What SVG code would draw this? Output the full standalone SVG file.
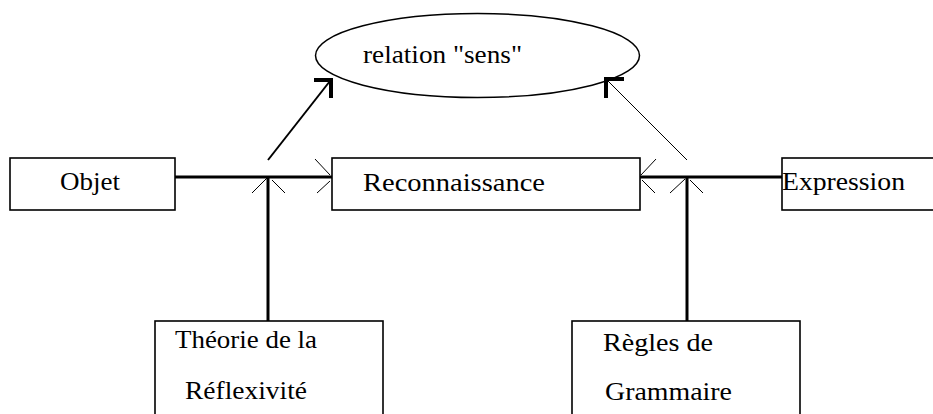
<svg xmlns="http://www.w3.org/2000/svg" width="933" height="414" viewBox="0 0 933 414">
<style>
.box{fill:#fff;stroke:#000;stroke-width:1.6}
.t{font-family:"Liberation Serif","Times New Roman",serif;font-size:25px;fill:#000}
.thick{stroke:#000;stroke-width:3;fill:none}
.thin{stroke:#000;stroke-width:1;fill:none}
.head{stroke:#000;stroke-width:4;fill:none;stroke-linecap:square}
</style>
<rect width="933" height="414" fill="#fff"/>
<g id="relation">
<ellipse cx="477.5" cy="55.5" rx="162" ry="42" fill="#fff" stroke="#000" stroke-width="1.5"/>
<text class="t" x="363" y="63" textLength="159" lengthAdjust="spacingAndGlyphs">relation "sens"</text>
</g>
<g id="objet">
<rect class="box" x="10" y="158" width="165" height="52"/>
<text class="t" x="60" y="190" textLength="60" lengthAdjust="spacingAndGlyphs">Objet</text>
</g>
<g id="reconnaissance">
<rect class="box" x="332" y="158" width="308" height="52"/>
<text class="t" x="363" y="191" textLength="182" lengthAdjust="spacingAndGlyphs">Reconnaissance</text>
</g>
<g id="expression">
<rect class="box" x="782" y="158" width="170" height="52"/>
<text class="t" x="782" y="190" textLength="123" lengthAdjust="spacingAndGlyphs">Expression</text>
</g>
<g id="theorie">
<rect class="box" x="155" y="321" width="228" height="110"/>
<text class="t" x="175" y="348" textLength="142" lengthAdjust="spacingAndGlyphs">Théorie de la</text>
<text class="t" x="185" y="399" textLength="122" lengthAdjust="spacingAndGlyphs">Réflexivité</text>
</g>
<g id="regles">
<rect class="box" x="572" y="321" width="228" height="110"/>
<text class="t" x="603" y="351" textLength="110" lengthAdjust="spacingAndGlyphs">Règles de</text>
<text class="t" x="605" y="400" textLength="127" lengthAdjust="spacingAndGlyphs">Grammaire</text>
</g>
<g id="connectors">
<line class="thick" x1="175" y1="177" x2="332" y2="177"/>
<line class="thick" x1="640" y1="177" x2="782" y2="177"/>
<line class="thick" x1="268" y1="177" x2="268" y2="321"/>
<line class="thick" x1="687" y1="177" x2="687" y2="321"/>
<line stroke="#000" stroke-width="2" x1="268" y1="160" x2="330" y2="81"/>
<polyline class="head" points="316,80 331,80 331,96"/>
<line class="thin" x1="687" y1="160" x2="607" y2="80"/>
<polyline class="head" points="622,79 606,79 606,96"/>
<line class="thin" x1="267" y1="178" x2="252" y2="193"/>
<line class="thin" x1="272" y1="180" x2="285" y2="193"/>
<line class="thin" x1="315" y1="159" x2="330" y2="175"/>
<line class="thin" x1="317" y1="193" x2="330" y2="181"/>
<line class="thin" x1="641" y1="175" x2="656" y2="159"/>
<line class="thin" x1="642" y1="180" x2="655" y2="193"/>
<line class="thin" x1="685" y1="179" x2="670" y2="193"/>
<line class="thin" x1="690" y1="180" x2="703" y2="193"/>
</g>
</svg>
